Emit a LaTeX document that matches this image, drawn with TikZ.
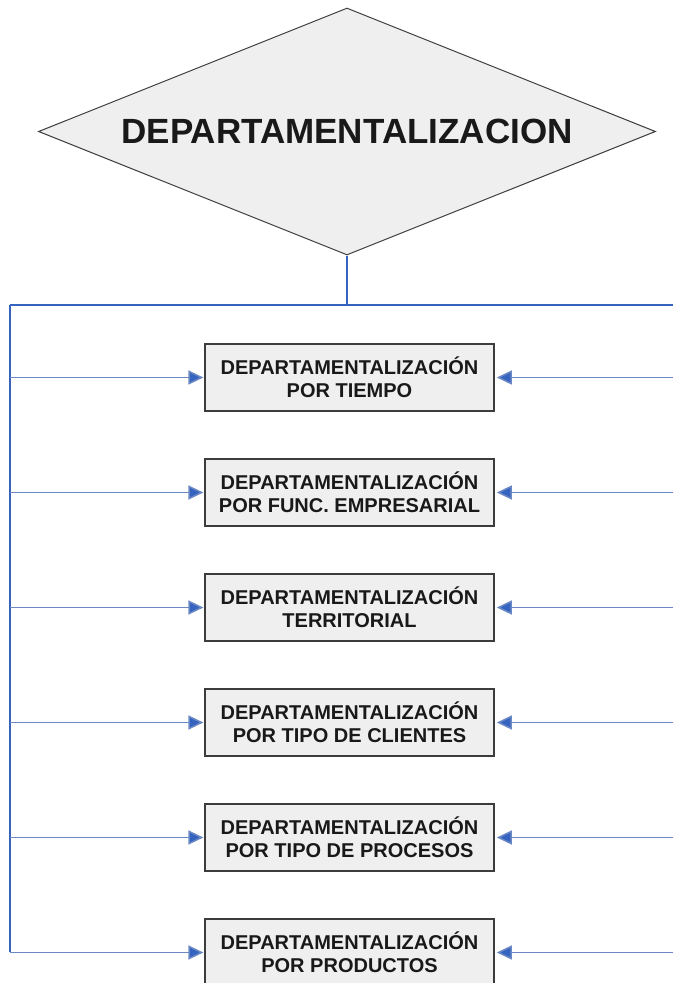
\documentclass[tikz,border=0pt]{standalone}
\usepackage{fontspec}
\setmainfont{Liberation Sans}
\usetikzlibrary{shapes.geometric,arrows.meta}

\definecolor{linkblue}{HTML}{3563C0}
\definecolor{linklight}{HTML}{6A88C4}
\definecolor{boxfill}{HTML}{EFEFEF}
\definecolor{boxedge}{HTML}{3C3C3C}

\tikzset{
  topdiamond/.style={diamond, draw=boxedge, line width=1pt, fill=boxfill,
    minimum width=617pt, minimum height=247pt, inner sep=0pt, aspect=2.5,
    font=\fontsize{35}{40}\selectfont\bfseries, text=black!90},
  deptbox/.style={rectangle, draw=boxedge, line width=1.6pt, fill=boxfill,
    minimum width=289pt, minimum height=67pt, inner sep=0pt, align=center,
    font=\fontsize{20}{23}\selectfont\bfseries, text=black!90},
  trunk/.style={draw=linkblue, line width=2.6pt},
  leftlink/.style={draw=linklight, line width=1.5pt,
    -{Triangle[length=15pt,width=14pt,fill=linkblue]}, shorten >=0.8pt},
  rightlink/.style={draw=linklight, line width=1.5pt,
    -{Triangle[length=15pt,width=14pt,fill=linkblue]}, shorten >=2pt}
}

\begin{document}
\begin{tikzpicture}[x=1pt,y=-1pt]
  \useasboundingbox (0,0) rectangle (673,983);

  % top-level concept
  \node[topdiamond] (root) at (347,131.5) {DEPARTAMENTALIZACION};

  % distribution lines
  \coordinate (hub) at (347,305);
  \coordinate (lefttop) at (10,305);
  \coordinate (righttop) at (673,305);
  \coordinate (leftbottom) at (10,952);
  \draw[draw=linkblue, line width=2pt] (root.south) -- (hub);
  \draw[trunk] (lefttop) -- (righttop);
  \draw[draw=linkblue, line width=2pt] (lefttop) -- (leftbottom);

  % kinds of departmentalization
  \node[deptbox] (b1) at (349.5,377.5) {DEPARTAMENTALIZACIÓN\\POR TIEMPO};
  \node[deptbox] (b2) at (349.5,492.5) {DEPARTAMENTALIZACIÓN\\POR FUNC. EMPRESARIAL};
  \node[deptbox] (b3) at (349.5,607.5) {DEPARTAMENTALIZACIÓN\\TERRITORIAL};
  \node[deptbox] (b4) at (349.5,722.5) {DEPARTAMENTALIZACIÓN\\POR TIPO DE CLIENTES};
  \node[deptbox] (b5) at (349.5,837.5) {DEPARTAMENTALIZACIÓN\\POR TIPO DE PROCESOS};
  \node[deptbox] (b6) at (349.5,952.5) {DEPARTAMENTALIZACIÓN\\POR PRODUCTOS};

  % arrows into each box from both sides
  \foreach \b in {b1,b2,b3,b4,b5,b6}{
    \coordinate (\b l) at (\b.west -| lefttop);
    \coordinate (\b r) at (\b.east -| righttop);
    \draw[leftlink] (\b l) -- (\b.west);
    \draw[rightlink] (\b r) -- (\b.east);
  }
\end{tikzpicture}
\end{document}
